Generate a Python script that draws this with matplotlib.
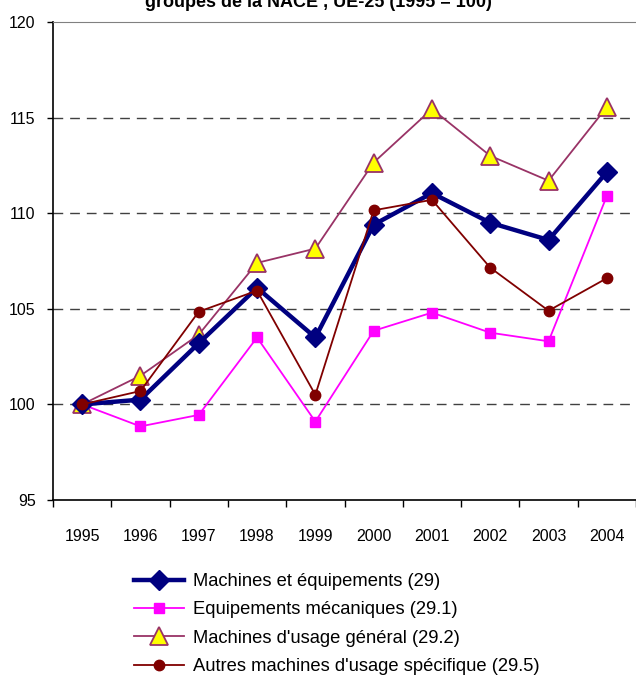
#!/usr/bin/env python3
"""Indices de production, machines et equipements, UE-25 (1995 = 100)."""
import numpy as np
import matplotlib
matplotlib.use('Agg')
import matplotlib.pyplot as plt
from matplotlib.ticker import FixedLocator

plt.rcParams['font.family'] = ['Liberation Sans', 'DejaVu Sans']

years = ['1995', '1996', '1997', '1998', '1999', '2000', '2001', '2002', '2003', '2004']
machines_29 = [100.0, 100.25, 103.2, 106.1, 103.5, 109.4, 111.05, 109.5, 108.6, 112.15]
equip_meca_291 = [100.0, 98.85, 99.45, 103.5, 99.1, 103.85, 104.8, 103.75, 103.3, 110.9]
usage_gen_292 = [100.0, 101.5, 103.65, 107.4, 108.15, 112.65, 115.45, 113.0, 111.7, 115.55]
usage_spec_295 = [100.0, 100.7, 104.85, 105.95, 100.5, 110.15, 110.7, 107.15, 104.9, 106.6]
labels = ['Machines et équipements (29)', 'Equipements mécaniques (29.1)',
          "Machines d'usage général (29.2)", "Autres machines d'usage spécifique (29.5)"]

fig = plt.figure(figsize=(6.36, 6.82), dpi=100)
ax = fig.add_axes([53 / 636, 1 - 500 / 682, 583 / 636, 478 / 682])

x = np.arange(len(years))
l1, = ax.plot(x, machines_29, color='#000080', lw=3.2, marker='D', ms=10,
              mfc='#000080', mec='#000080', zorder=5)
l2, = ax.plot(x, equip_meca_291, color='#FF00FF', lw=1.3, marker='s', ms=7,
              mfc='#FF00FF', mec='#FF00FF', zorder=4)
l3, = ax.plot(x, usage_gen_292, color='#993366', lw=1.3, marker='^', ms=13.5,
              mfc='#FFFF00', mec='#993366', mew=1.3, zorder=3)
l4, = ax.plot(x, usage_spec_295, color='#800000', lw=1.3, marker='o', ms=7.5,
              mfc='#800000', mec='#800000', zorder=6)

ax.set_xlim(-0.5, len(years) - 0.5)
ax.set_ylim(95, 120)
ax.set_yticks([95, 100, 105, 110, 115, 120])
for v in [100, 105, 110, 115]:
    ax.axhline(v, color='#404040', lw=1, ls=(0, (7, 5)), zorder=1)

ax.set_xticks(x)
ax.set_xticklabels(years)
ax.xaxis.set_minor_locator(FixedLocator(np.arange(-0.5, len(years), 1.0)))
ax.tick_params(axis='x', which='major', length=0, pad=21, labelsize=11.5)
ax.tick_params(axis='x', which='minor', length=5, width=1, direction='out')
ax.tick_params(axis='y', length=4.5, width=1, direction='out', pad=8, labelsize=11.5)

for s in ['left', 'bottom']:
    ax.spines[s].set_color('black')
    ax.spines[s].set_linewidth(1.2)
ax.spines['top'].set_color('#808080')
ax.spines['right'].set_visible(False)

fig.text(0.5, 1 - 7 / 682, 'groupes de la NACE , UE-25 (1995 = 100)',
         ha='center', va='baseline', fontsize=13, fontweight='bold')

fig.legend([l1, l2, l3, l4], labels, loc='upper left',
           bbox_to_anchor=(134 / 636, 1 - 573 / 682), frameon=False,
           fontsize=13.25, handlelength=2.7, handletextpad=0.5,
           labelspacing=0.62, borderaxespad=0, borderpad=0)

fig.savefig('out.png', dpi=100)
